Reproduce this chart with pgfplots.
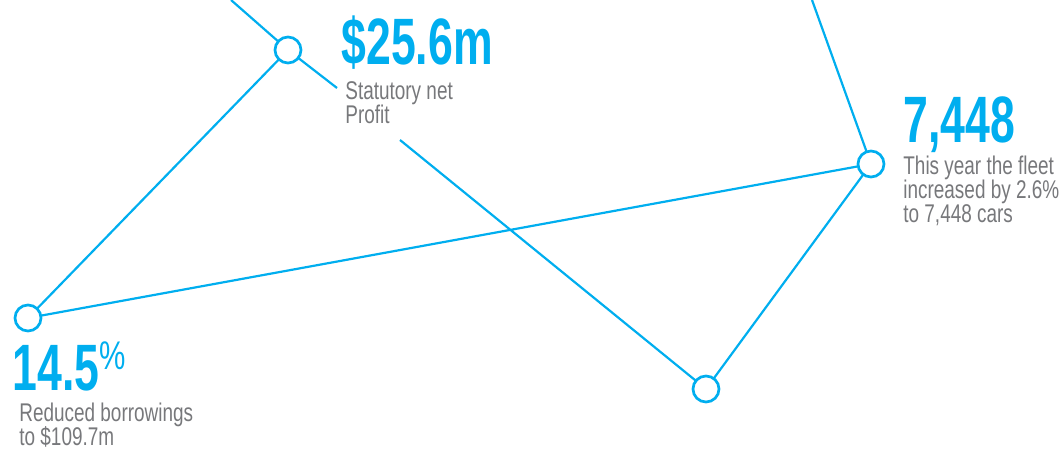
\documentclass[border=0pt]{standalone}
\usepackage{pgfplots}
\pgfplotsset{compat=1.18}
\usepackage{fontspec}
\setmainfont{Liberation Sans}
\newfontfamily\bignum[FakeStretch=0.68]{Liberation Sans Bold}
\newfontfamily\cond[FakeStretch=0.74]{Liberation Sans}
\definecolor{cy}{HTML}{00AEEF}
\definecolor{gr}{HTML}{77787B}
\begin{document}
\begin{tikzpicture}
\begin{axis}[name=ax,
  width=529.5pt, height=224.5pt, scale only axis,
  xmin=0, xmax=1059, ymin=0, ymax=449, y dir=reverse,
  hide axis, clip=true]
% connecting lines (pixel coordinates, y downwards)
\addplot[cy, line width=1.1pt] coordinates {(231,0) (288,50) (337,88)};
\addplot[cy, line width=1.1pt] coordinates {(400,140) (706,389) (871,164) (28,318) (288,50)};
\addplot[cy, line width=1.1pt] coordinates {(871,164) (812,0)};
% circles
\addplot[only marks, mark=*, mark size=6.5pt,
  mark options={fill=white, draw=cy, line width=1.35pt}]
  coordinates {(288,50) (28,318) (871,164) (706,389)};
% labels
\node[anchor=base west, inner sep=0, text=cy, font=\bignum\fontsize{32.8}{36}\selectfont] at (axis cs:341,65) {\$25.6m};
\node[anchor=base west, inner sep=0, text=gr, font=\cond\fontsize{12.8}{12}\selectfont] at (axis cs:345,100) {Statutory net};
\node[anchor=base west, inner sep=0, text=gr, font=\cond\fontsize{12.8}{12}\selectfont] at (axis cs:345,124) {Profit};
\node[anchor=base west, inner sep=0, text=cy, font=\bignum\fontsize{32.8}{36}\selectfont] at (axis cs:903,142) {7,448};
\node[anchor=base west, inner sep=0, text=gr, font=\cond\fontsize{12.8}{12}\selectfont] at (axis cs:903,174) {This year the fleet};
\node[anchor=base west, inner sep=0, text=gr, font=\cond\fontsize{12.8}{12}\selectfont] at (axis cs:903,198) {increased by 2.6\%};
\node[anchor=base west, inner sep=0, text=gr, font=\cond\fontsize{12.8}{12}\selectfont] at (axis cs:903,222) {to 7,448 cars};
\node[anchor=base west, inner sep=0, text=cy, font=\bignum\fontsize{32.8}{36}\selectfont] at (axis cs:12,390) {14.5};
\node[anchor=north west, inner sep=0, text=cy, font=\cond\fontsize{20}{20}\selectfont] at (axis cs:99,341) {\%};
\node[anchor=base west, inner sep=0, text=gr, font=\cond\fontsize{12.8}{12}\selectfont] at (axis cs:19,421) {Reduced borrowings};
\node[anchor=base west, inner sep=0, text=gr, font=\cond\fontsize{12.8}{12}\selectfont] at (axis cs:19,445) {to \$109.7m};
\end{axis}
\pgfresetboundingbox
\useasboundingbox (ax.south west) rectangle (ax.north east);
\end{tikzpicture}
\end{document}
